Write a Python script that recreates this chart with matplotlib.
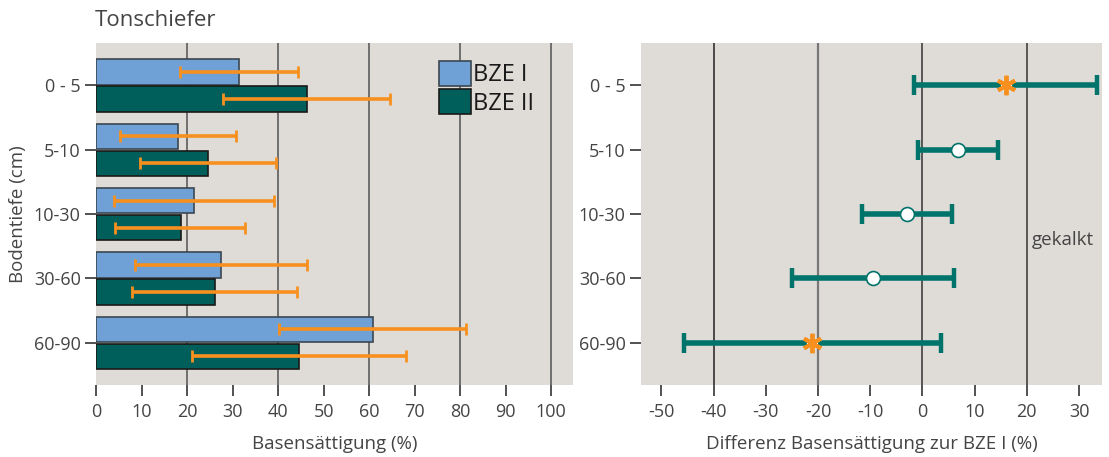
import matplotlib
matplotlib.use("Agg")
import matplotlib.pyplot as plt
import numpy as np

plt.rcParams['font.family'] = ['Open Sans', 'DejaVu Sans']
plt.rcParams['axes.unicode_minus'] = False

# ---- data ----
depths = ["0 - 5", "5-10", "10-30", "30-60", "60-90"]
bze1 = [31.5, 18.1, 21.6, 27.4, 60.8]
bze2 = [46.4, 24.7, 18.6, 26.2, 44.5]
bze1_lo = [18.5, 5.2, 4.0, 8.5, 40.3]
bze1_hi = [44.3, 30.8, 39.1, 46.3, 81.3]
bze2_lo = [28.0, 9.7, 4.2, 7.9, 21.0]
bze2_hi = [64.5, 39.6, 32.8, 44.1, 68.1]

diff = [16.0, 6.8, -3.0, -9.4, -21.1]
diff_lo = [-1.6, -0.9, -11.6, -24.9, -45.6]
diff_hi = [33.5, 14.4, 5.6, 6.1, 3.5]
significant = [True, False, False, False, True]

left_xticks = list(range(0, 101, 10))
left_grid = [20, 40, 60, 80, 100]
right_xticks = [-50, -40, -30, -20, -10, 0, 10, 20, 30]

# ---- style ----
bg = '#dfdcd8'
txt = '#444444'
c1 = '#6fa1d6'
c2 = '#005f5a'
orange = '#f7901e'
teal = '#00736b'

fig = plt.figure(figsize=(11.09, 4.57), dpi=100)
axL = fig.add_axes([96/1109, 1-385.3/457, 477/1109, 342.3/457])
axR = fig.add_axes([641/1109, 1-385.3/457, 461/1109, 342.3/457])

y = np.arange(len(depths))
h = 0.39
off = 0.21

for ax in (axL, axR):
    ax.set_facecolor(bg)
    for s in ax.spines.values():
        s.set_visible(False)
    ax.set_ylim(4.66, -0.66)
    ax.set_yticks(y)
    ax.set_yticklabels(depths)
    ax.tick_params(axis='both', colors='#333333', labelcolor=txt, labelsize=13,
                   length=8, width=1.2, direction='out')
    ax.tick_params(axis='y', pad=3)
    ax.tick_params(axis='x', pad=5)

# left panel
for g in left_grid:
    axL.axvline(g, color='#666666', lw=1.3, zorder=1)
axL.barh(y - off, bze1, height=h, color=c1, edgecolor='#3c4650', lw=1.2, zorder=2, label='BZE I')
axL.barh(y + off, bze2, height=h, color=c2, edgecolor='#1a1a1a', lw=1.2, zorder=2, label='BZE II')
for yy, lo, hi in ((y - off, bze1_lo, bze1_hi), (y + off, bze2_lo, bze2_hi)):
    lo = np.array(lo); hi = np.array(hi)
    mid = (lo + hi) / 2
    axL.errorbar(mid, yy, xerr=(hi - lo) / 2, fmt='none', ecolor=orange,
                 elinewidth=2.6, capsize=4.5, capthick=2, zorder=3)
axL.set_xlim(0, 104.8)
axL.set_xticks(left_xticks)
axL.set_xlabel("Basensättigung (%)", fontsize=13.5, color=txt, labelpad=10)
axL.set_ylabel("Bodentiefe (cm)", fontsize=13.5, color=txt, labelpad=5)
leg = axL.legend(loc='upper left', bbox_to_anchor=(0.7, 0.975), frameon=False,
                 fontsize=17, handlelength=1.35, handleheight=1.25, handletextpad=0.08,
                 labelspacing=0.08, borderaxespad=0)
for t in leg.get_texts():
    t.set_color('#1a1a1a')
fig.text(95/1109, 1-20/457, "Tonschiefer", fontsize=16, color=txt, ha='left', va='center')

# right panel
axR.axvline(-40, color='#222222', lw=1.1, zorder=1)
axR.axvline(-20, color='#777777', lw=1.6, zorder=1)
axR.axvline(0, color='#333333', lw=1.1, zorder=1)
axR.axvline(20, color='#333333', lw=1.1, zorder=1)
d = np.array(diff); dlo = np.array(diff_lo); dhi = np.array(diff_hi)
axR.errorbar(d, y, xerr=[d - dlo, dhi - d], fmt='none', ecolor=teal,
             elinewidth=4, capsize=7, capthick=3.2, zorder=3)
sig = np.array(significant)
axR.plot(d[~sig], y[~sig], 'o', ms=10, mfc='white', mec=teal, mew=1.2, zorder=4)
axR.plot(d[sig], y[sig], 'o', ms=8, mfc='white', mec='none', zorder=4)
axR.plot(d[sig], y[sig], marker=(6, 2, 0), ls='none', ms=14, mec=orange, mew=2.8, zorder=5)
axR.set_xlim(-53.9, 34.4)
axR.set_xticks(right_xticks)
axR.set_xlabel("Differenz Basensättigung zur BZE I (%)", fontsize=13.5, color=txt, labelpad=10)
axR.text(20.9, 2.4, "gekalkt", fontsize=13.5, color=txt, ha='left', va='center')

fig.savefig("out.png", dpi=100, facecolor='white')
